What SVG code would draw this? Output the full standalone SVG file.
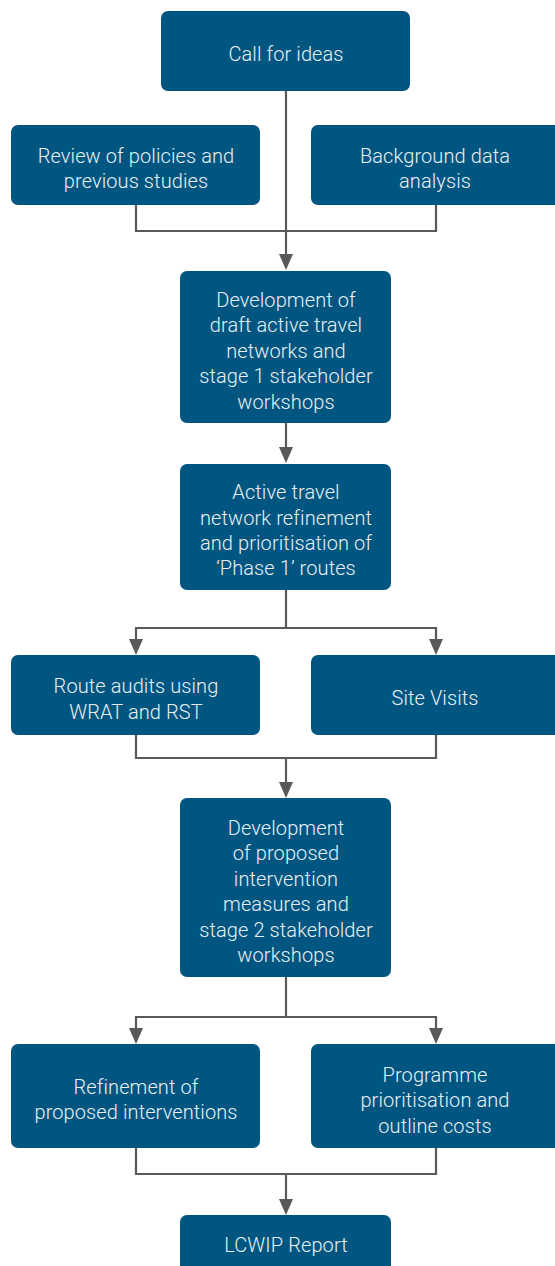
<svg xmlns="http://www.w3.org/2000/svg" width="555" height="1266" viewBox="0 0 555 1266">
<style>
.box{fill:#005680;}
.t{fill:#e8f0f6;font-family:Roboto,"Liberation Sans",sans-serif;font-size:20px;font-weight:300;letter-spacing:0.1px;text-anchor:middle;}
.c{fill:none;stroke:#595959;stroke-width:2.2;}
.ah{fill:#595959;}
</style>
<rect width="555" height="1266" fill="#ffffff"/>
<g id="connectors">
<path class="c" d="M286,91 V256"/>
<path class="ah" d="M279,254 L293,254 L286,270 Z"/>
<path class="c" d="M136,205 V231 H436 V205"/>
<path class="c" d="M286,423 V448"/>
<path class="ah" d="M279,447 L293,447 L286,463 Z"/>
<path class="c" d="M286,590 V628 M136,641 V628 H436 V641"/>
<path class="ah" d="M129,639 L143,639 L136,655 Z"/>
<path class="ah" d="M429,639 L443,639 L436,655 Z"/>
<path class="c" d="M136,735 V758 H436 V735 M286,758 V784"/>
<path class="ah" d="M279,782 L293,782 L286,798 Z"/>
<path class="c" d="M286,977 V1017 M136,1030 V1017 H436 V1030"/>
<path class="ah" d="M129,1028 L143,1028 L136,1044 Z"/>
<path class="ah" d="M429,1028 L443,1028 L436,1044 Z"/>
<path class="c" d="M136,1148 V1174 H436 V1148 M286,1174 V1200"/>
<path class="ah" d="M279,1199 L293,1199 L286,1215 Z"/>
</g>
<g id="n1"><rect class="box" x="161" y="11" width="249" height="80" rx="7"/><text class="t" x="286" y="61">Call for ideas</text></g>
<g id="n2"><rect class="box" x="11" y="125" width="249" height="80" rx="7"/><text class="t" x="136" y="163">Review of policies and</text><text class="t" x="136" y="188">previous studies</text></g>
<g id="n3"><rect class="box" x="311" y="125" width="250" height="80" rx="7"/><text class="t" x="435" y="163">Background data</text><text class="t" x="435" y="188">analysis</text></g>
<g id="n4"><rect class="box" x="180" y="271" width="211" height="152" rx="7"/><text class="t" x="286" y="307">Development of</text><text class="t" x="286" y="332">draft active travel</text><text class="t" x="286" y="358">networks and</text><text class="t" x="286" y="383">stage 1 stakeholder</text><text class="t" x="286" y="409">workshops</text></g>
<g id="n5"><rect class="box" x="180" y="464" width="211" height="126" rx="7"/><text class="t" x="286" y="499">Active travel</text><text class="t" x="286" y="525">network refinement</text><text class="t" x="286" y="550">and prioritisation of</text><text class="t" x="286" y="575">‘Phase 1’ routes</text></g>
<g id="n6"><rect class="box" x="11" y="655" width="249" height="80" rx="7"/><text class="t" x="136" y="693">Route audits using</text><text class="t" x="136" y="719">WRAT and RST</text></g>
<g id="n7"><rect class="box" x="311" y="655" width="250" height="80" rx="7"/><text class="t" x="435" y="705">Site Visits</text></g>
<g id="n8"><rect class="box" x="180" y="798" width="211" height="179" rx="7"/><text class="t" x="286" y="835">Development</text><text class="t" x="286" y="860">of proposed</text><text class="t" x="286" y="886">intervention</text><text class="t" x="286" y="911">measures and</text><text class="t" x="286" y="937">stage 2 stakeholder</text><text class="t" x="286" y="962">workshops</text></g>
<g id="n9"><rect class="box" x="11" y="1044" width="249" height="104" rx="7"/><text class="t" x="136" y="1094">Refinement of</text><text class="t" x="136" y="1119">proposed interventions</text></g>
<g id="n10"><rect class="box" x="311" y="1044" width="250" height="104" rx="7"/><text class="t" x="435" y="1082">Programme</text><text class="t" x="435" y="1107">prioritisation and</text><text class="t" x="435" y="1133">outline costs</text></g>
<g id="n11"><rect class="box" x="180" y="1215" width="211" height="62" rx="7"/><text class="t" x="286" y="1252">LCWIP Report</text></g>
</svg>
